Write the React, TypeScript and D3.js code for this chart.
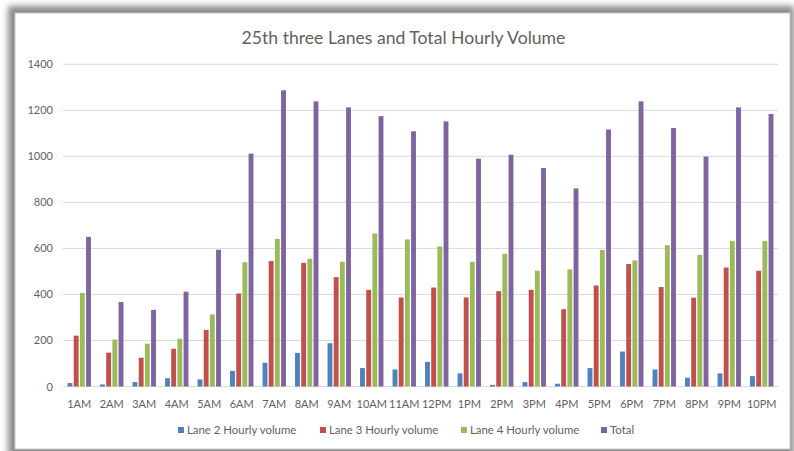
import React from "react";
import * as d3 from "d3";

const hours = ["1AM","2AM","3AM","4AM","5AM","6AM","7AM","8AM","9AM","10AM","11AM","12PM","1PM","2PM","3PM","4PM","5PM","6PM","7PM","8PM","9PM","10PM"];
const lane2 = [15, 9, 19, 36, 31, 68, 103, 146, 188, 80, 74, 107, 57, 7, 19, 12, 80, 152, 74, 38, 57, 45];
const lane3 = [221, 147, 125, 164, 246, 404, 545, 537, 475, 420, 387, 430, 387, 414, 420, 336, 439, 532, 432, 386, 517, 503];
const lane4 = [406, 204, 186, 208, 313, 540, 641, 555, 542, 665, 639, 609, 542, 577, 503, 509, 593, 548, 614, 572, 632, 632];
const total = [650, 367, 333, 412, 594, 1012, 1287, 1239, 1213, 1175, 1109, 1152, 990, 1007, 949, 861, 1117, 1239, 1123, 999, 1213, 1184];
const seriesNames = ["Lane 2 Hourly volume", "Lane 3 Hourly volume", "Lane 4 Hourly volume", "Total"];
const yTicks = [0, 200, 400, 600, 800, 1000, 1200, 1400];
const title = "25th three Lanes and Total Hourly Volume";

const colors = ["#4F81BD", "#C0504D", "#9BBB59", "#8064A2"];
const FONT = "Lato, 'Open Sans', sans-serif";
const TXT = "#5f5f5f";

export default function App() {
  const W = 794, H = 451;
  const left = 63, right = 778, top = 64.3, bottom = 386.5;
  const allSeries = [lane2, lane3, lane4, total];
  const x = d3.scaleBand<string>().domain(hours).range([left, right]).padding(0);
  const bw = x.bandwidth();
  const gap = 7.8;
  const xi = d3.scaleBand<number>().domain([0, 1, 2, 3]).range([gap / 2, bw - gap / 2]).padding(0);
  const y = d3.scaleLinear().domain([0, 1400]).range([bottom, top]);
  const barW = xi.bandwidth() - 1.3;
  const legendX = [178, 320, 461, 601];

  return (
    <svg width={W} height={H} style={{ position: "absolute", left: 0, top: 0 }} xmlns="http://www.w3.org/2000/svg">
      <defs>
        <filter id="sh" x="-10%" y="-10%" width="120%" height="120%">
          <feGaussianBlur stdDeviation="3" />
        </filter>
      </defs>
      <rect x={0} y={0} width={W} height={H} fill="#ffffff" />
      <rect x={8} y={6} width={786} height={450} fill="#8a8a8a" filter="url(#sh)" />
      <rect x={15} y={13} width={775} height={436} fill="#ffffff" stroke="#c8c8c8" strokeWidth={1} />
      <text x={403.5} y={44} textAnchor="middle" fontFamily={FONT} fontSize={17.6} fill={TXT}>{title}</text>
      {yTicks.map((t) => (
        <g key={t}>
          <line x1={left} x2={right} y1={y(t)} y2={y(t)} stroke="#d9d9d9" strokeWidth={1} />
          <text x={53} y={y(t) + 4} textAnchor="end" fontFamily={FONT} fontSize={11} fill={TXT}>{t}</text>
        </g>
      ))}
      {hours.map((h, i) => (
        <g key={h}>
          {allSeries.map((s, k) => (
            <rect key={k}
              x={(x(h) as number) + (xi(k) as number) + 0.65}
              y={y(s[i])}
              width={barW}
              height={y(0) - y(s[i])}
              fill={colors[k]} />
          ))}
          <text x={(x(h) as number) + bw / 2} y={408} textAnchor="middle" fontFamily={FONT} fontSize={11} fill={TXT}>{h}</text>
        </g>
      ))}
      {seriesNames.map((n, k) => (
        <g key={n}>
          <rect x={legendX[k]} y={427} width={6} height={6} fill={colors[k]} />
          <text x={legendX[k] + 9} y={434} fontFamily={FONT} fontSize={11.4} fill={TXT}>{n}</text>
        </g>
      ))}
    </svg>
  );
}
